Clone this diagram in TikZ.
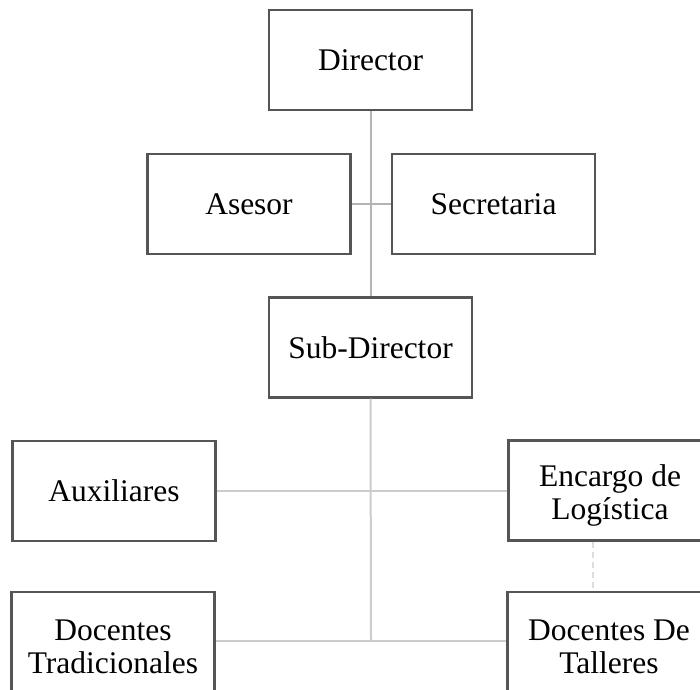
\documentclass[tikz,border=0pt]{standalone}
\usepackage{fontspec}
\setmainfont{Liberation Serif}
\newcommand\mytallstrut{\rule{0pt}{31pt}}
\begin{document}
\begin{tikzpicture}[x=1pt,y=-1pt,
  box/.style={draw=boxgray, line width=2.2pt, fill=white, minimum width=203pt, minimum height=100pt,
    inner sep=0pt, align=center, font=\fontsize{31.5}{33}\selectfont},
  conn/.style={draw=linegray, line width=2pt},
  connlight/.style={draw=linelight, line width=2pt},
  dashconn/.style={draw=dashgray, line width=2pt, dash pattern=on 6pt off 4pt}]
\definecolor{boxgray}{HTML}{555555}
\definecolor{linegray}{HTML}{B4B4B4}
\definecolor{linelight}{HTML}{CCCCCC}
\definecolor{dashgray}{HTML}{DDDDDD}
\useasboundingbox (0,0) rectangle (700,689);
\clip (0,0) rectangle (700,689);
\node[box] (dir) at (370.5,60) {Director};
\node[box] (ase) at (249,204) {Asesor};
\node[box] (sec) at (493.5,204) {Secretaria};
\node[box] (sub) at (370.5,347.5) {Sub-Director};
\node[box] (aux) at (114,491) {Auxiliares};
\node[box] (enc) at (610,490.5) {\mytallstrut Encargo de\\Logística};
\node[box] (tra) at (113,642) {\mytallstrut Docentes\\Tradicionales};
\node[box] (tal) at (609,642) {\mytallstrut Docentes De\\Talleres};
\coordinate (dx) at (593,0);
\coordinate (bot) at (371,641);
\draw[conn] (dir.south) -- (sub.north);
\draw[conn] (ase.east) -- (sec.west);
\draw[connlight] (sub.south) -- (bot);
\draw[connlight] (aux.east) -- (aux.east -| enc.west);
\draw[connlight] (tra.east |- bot) -- (tal.west |- bot);
\draw[dashconn] (enc.south -| dx) -- (tal.north -| dx);
\end{tikzpicture}
\end{document}
